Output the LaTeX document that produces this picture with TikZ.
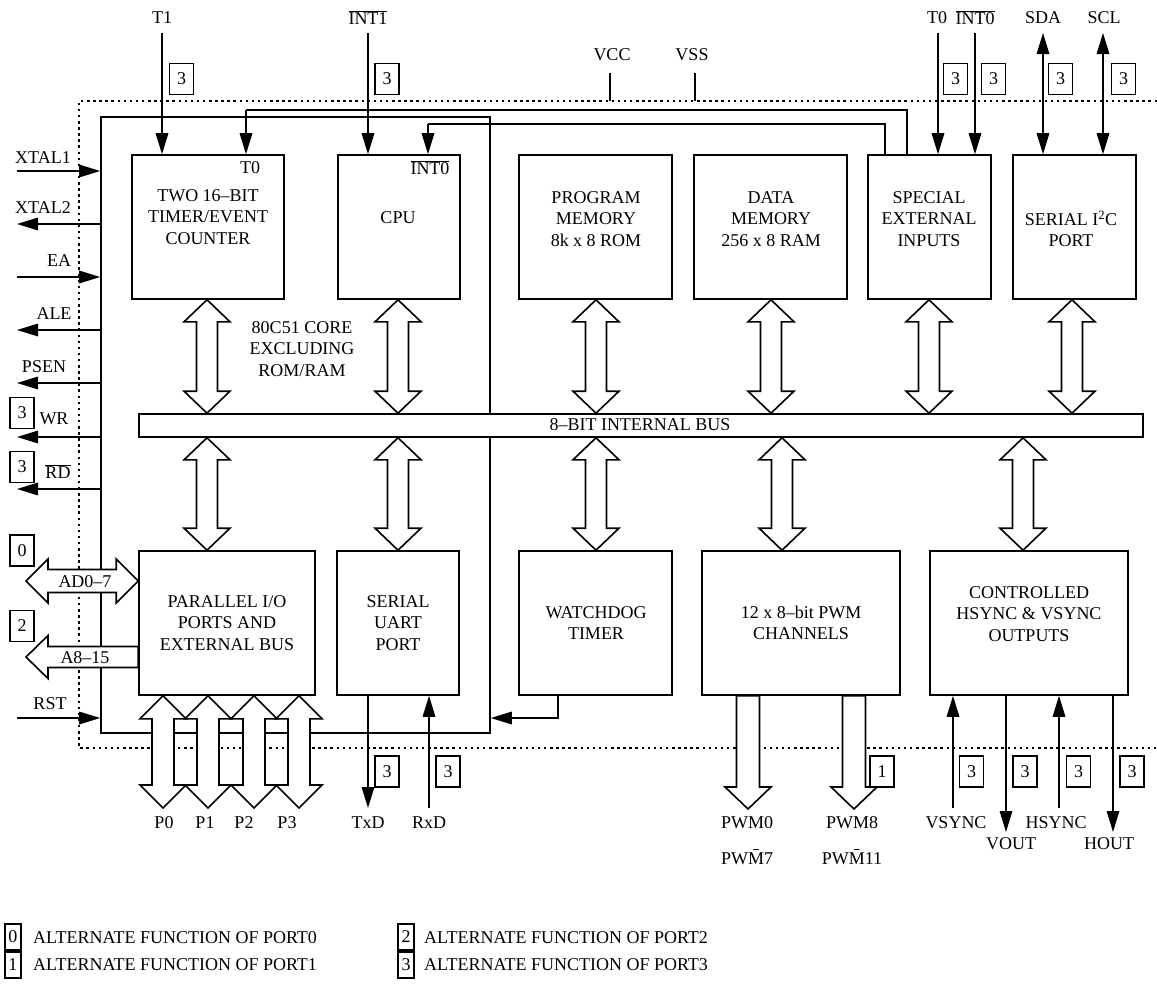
\documentclass[tikz,border=0pt]{standalone}
\usepackage{fontspec}
\setmainfont{Liberation Serif}
\usetikzlibrary{arrows.meta,calc}
\tikzset{
 ln/.style={line width=1.6pt},
 sig/.style={ln,-{Triangle[length=21pt,width=12.5pt]}},
 dsig/.style={ln,{Triangle[length=21pt,width=12.5pt]}-{Triangle[length=21pt,width=12.5pt]}},
 blk/.style={draw,line width=1.6pt,fill=white,inner sep=0pt,minimum height=144pt},
 txt/.style={font=\fontsize{18}{21.5}\selectfont,align=center,inner sep=0pt},
 nb/.style={draw,line width=1.3pt,fill=white,minimum width=24pt,minimum height=31pt,inner sep=0pt,font=\fontsize{18}{21.5}\selectfont},
 lb/.style={draw,line width=1.3pt,fill=white,minimum width=16pt,minimum height=26pt,inner sep=0pt,font=\fontsize{18}{21.5}\selectfont},
 fat/.style={draw,line width=1.6pt,fill=white,line join=miter},
 dots/.style={line width=2pt,dash pattern=on 2.5pt off 3.6pt},
}
% vertical double arrow: #1 top tip, #2 bottom tip, #3 head half width, #4 shaft half width, #5 head length
\newcommand{\vdbl}[5]{\path[fat] let \p1=(#1), \p2=(#2) in
 (\x1,\y1) -- (\x1+#3,\y1-#5) -- (\x1+#4,\y1-#5) -- (\x1+#4,\y2+#5) -- (\x1+#3,\y2+#5) -- (\x1,\y2)
 -- (\x1-#3,\y2+#5) -- (\x1-#4,\y2+#5) -- (\x1-#4,\y1-#5) -- (\x1-#3,\y1-#5) -- cycle;}
% vertical single arrow down: #1 top (tail), #2 bottom tip
\newcommand{\vsgl}[5]{\path[fat] let \p1=(#1), \p2=(#2) in
 (\x1-#4,\y1) -- (\x1-#4,\y2+#5) -- (\x1-#3,\y2+#5) -- (\x1,\y2) -- (\x1+#3,\y2+#5) -- (\x1+#4,\y2+#5) -- (\x1+#4,\y1) -- cycle;}
% horizontal double arrow: #1 left tip, #2 right tip
\newcommand{\hdbl}[5]{\path[fat] let \p1=(#1), \p2=(#2) in
 (\x1,\y1) -- (\x1+#5,\y1+#3) -- (\x1+#5,\y1+#4) -- (\x2-#5,\y1+#4) -- (\x2-#5,\y1+#3) -- (\x2,\y1)
 -- (\x2-#5,\y1-#3) -- (\x2-#5,\y1-#4) -- (\x1+#5,\y1-#4) -- (\x1+#5,\y1-#3) -- cycle;}
% horizontal single arrow pointing left: #1 left tip, #2 tail
\newcommand{\hsgl}[5]{\path[fat] let \p1=(#1), \p2=(#2) in
 (\x1,\y1) -- (\x1+#5,\y1+#3) -- (\x1+#5,\y1+#4) -- (\x2,\y1+#4) -- (\x2,\y1-#4) -- (\x1+#5,\y1-#4) -- (\x1+#5,\y1-#3) -- cycle;}
\newcommand{\ovl}[1]{\ensuremath{\overline{\mbox{#1}}}}
\begin{document}
\begin{tikzpicture}[x=1pt,y=-1pt]
\useasboundingbox (0,0) rectangle (1157,993);
% chip boundary (dotted)
\draw[dots] (1157,101) -- (79,101) -- (79,748) -- (1157,748);
% supply pins
\node[txt] (lvcc) at (612,55) {VCC};
\node[txt] (lvss) at (692,55) {VSS};
\coordinate (vcc) at (610,73);
\coordinate (vss) at (695,73);
\draw[ln] (vcc) -- (610,101);
\draw[ln] (vss) -- (695,101);
% core box
\node[draw,line width=1.6pt,minimum width=389pt,minimum height=616pt,inner sep=0pt] (core) at (295.5,425) {};
\node[txt] (lcore) at (302,349) {80C51 CORE\\EXCLUDING\\ROM/RAM};
% blocks
\node[blk,minimum width=152pt] (timer) at (208,227) {};
\node[blk,minimum width=122pt] (cpu) at (399,227) {};
\node[blk,minimum width=153pt] (prog) at (595.5,227) {};
\node[blk,minimum width=153pt] (data) at (770.5,227) {};
\node[blk,minimum width=123pt] (special) at (929.5,227) {};
\node[blk,minimum width=123pt] (serial) at (1074.5,227) {};
\node[blk,minimum width=176pt] (par) at (227,623) {};
\node[blk,minimum width=122pt] (uart) at (398,623) {};
\node[blk,minimum width=153pt] (wd) at (595.5,623) {};
\node[blk,minimum width=198pt] (pwm) at (801,623) {};
\node[blk,minimum width=198pt] (hs) at (1029,623) {};
\node[draw,line width=1.6pt,fill=white,minimum width=1004pt,minimum height=23pt,inner sep=0pt] (bus) at (641,425.5) {};
\node[txt] (lbus) at (640,425) {8--BIT INTERNAL BUS};
% block texts
\node[txt] (ltimer) at (208,217) {TWO 16--BIT\\TIMER/EVENT\\COUNTER};
\node[txt] (lt0i) at (250,168) {T0};
\node[txt] (lcpu) at (398,218) {CPU};
\node[txt] (lint0i) at (430,168) {\ovl{INT0}};
\node[txt] (lprog) at (596,219) {PROGRAM\\MEMORY\\8k x 8 ROM};
\node[txt] (ldata) at (771,219) {DATA\\MEMORY\\256 x 8 RAM};
\node[txt] (lspec) at (929,219) {SPECIAL\\EXTERNAL\\INPUTS};
\node[txt] (lser) at (1071,229) {SERIAL I\textsuperscript{2}C\\PORT};
\node[txt] (lpar) at (227,623) {PARALLEL I/O\\PORTS AND\\EXTERNAL BUS};
\node[txt] (luart) at (398,623) {SERIAL\\UART\\PORT};
\node[txt] (lwd) at (596,623) {WATCHDOG\\TIMER};
\node[txt] (lpwm) at (801,623) {12 x 8--bit PWM\\CHANNELS};
\node[txt] (lhs) at (1029,614) {CONTROLLED\\HSYNC \& VSYNC\\OUTPUTS};
% internal feedback lines from special inputs
\coordinate (ra) at (907,110);
\coordinate (rb) at (246,110);
\coordinate (rc) at (885,124);
\coordinate (rd) at (428,124);
\draw[ln] (ra |- special.north) -- (ra) -- (rb);
\draw[sig] (rb) -- (rb |- timer.north);
\draw[ln] (rc |- special.north) -- (rc) -- (rd);
\draw[sig] (rd) -- (rd |- cpu.north);
% bus arrows
\foreach \cx/\nd in {207/timer,398/cpu,596/prog,771/data,929/special,1072/serial}{
  \coordinate (tA) at (\cx,0);
  \vdbl{tA |- \nd.south}{tA |- bus.north}{23pt}{10.5pt}{22pt}
}
\foreach \cx/\nd in {207/par,398/uart,596/wd,782/pwm,1023/hs}{
  \coordinate (tB) at (\cx,0);
  \vdbl{tB |- bus.south}{tB |- \nd.north}{23pt}{10.5pt}{22pt}
}
% port arrows
\foreach \cx in {163,208,254,299}{
  \coordinate (tP) at (\cx,808);
  \vdbl{tP |- par.south}{tP}{23pt}{11pt}{23pt}
}
\node[txt] (lp0) at (164,823) {P0};
\node[txt] (lp1) at (205,823) {P1};
\node[txt] (lp2) at (244,823) {P2};
\node[txt] (lp3) at (287,823) {P3};
% address/data arrows
\coordinate (adt) at (26,581);
\coordinate (at) at (26,657);
\hdbl{adt}{adt -| par.west}{22pt}{11.5pt}{22pt}
\hsgl{at}{at -| par.west}{21.5pt}{10.5pt}{22pt}
\node[txt] (lad) at (85,582) {AD0--7};
\node[txt] (la8) at (85,658) {A8--15};
\node[nb] (n0) at (22,550.5) {0};
\node[nb] (n2) at (22,626) {2};
% PWM arrows
\coordinate (pw0) at (748,809);
\coordinate (pw8) at (854,809);
\vsgl{pw0 |- pwm.south}{pw0}{23pt}{11.5pt}{22pt}
\vsgl{pw8 |- pwm.south}{pw8}{23pt}{11.5pt}{22pt}
\node[nb] (n1p) at (882,771.5) {1};
\node[txt] (lpwm0) at (747,823) {PWM0};
\node[txt] (lpwm7) at (747,857) {PW\={M}7};
\node[txt] (lpwm8) at (852,823) {PWM8};
\node[txt] (lpwm11) at (852,857) {PW\={M}11};
% watchdog reset line
\coordinate (wdo) at (558,718);
\draw[sig] (wdo |- wd.south) -- (wdo) -- (wdo -| core.east);
% UART pins
\coordinate (txd) at (368,808);
\coordinate (rxd) at (429,808);
\draw[sig] (txd |- uart.south) -- (txd);
\draw[sig] (rxd) -- (rxd |- uart.south);
\node[nb] (ntx) at (387,771.5) {3};
\node[nb] (nrx) at (448,771.5) {3};
\node[txt] (ltxd) at (368,823) {TxD};
\node[txt] (lrxd) at (429,823) {RxD};
% sync pins
\coordinate (vsy) at (953,808);
\coordinate (vou) at (1006,832);
\coordinate (hsy) at (1059,808);
\coordinate (hou) at (1113,832);
\draw[sig] (vsy) -- (vsy |- hs.south);
\draw[sig] (vou |- hs.south) -- (vou);
\draw[sig] (hsy) -- (hsy |- hs.south);
\draw[sig] (hou |- hs.south) -- (hou);
\node[nb] (nvs) at (971.5,771.5) {3};
\node[nb] (nvo) at (1025,771.5) {3};
\node[nb] (nhs) at (1078.5,771.5) {3};
\node[nb] (nho) at (1132,771.5) {3};
\node[txt] (lvsy) at (956,823) {VSYNC};
\node[txt] (lvou) at (1011,844) {VOUT};
\node[txt] (lhsy) at (1056,823) {HSYNC};
\node[txt] (lhou) at (1109,844) {HOUT};
% top pins
\coordinate (t1) at (162,33);
\coordinate (i1) at (368,33);
\coordinate (t0) at (938,33);
\coordinate (i0) at (975,33);
\coordinate (sda) at (1043,33);
\coordinate (scl) at (1103,33);
\draw[sig] (t1) -- (t1 |- timer.north);
\draw[sig] (i1) -- (i1 |- cpu.north);
\draw[sig] (t0) -- (t0 |- special.north);
\draw[sig] (i0) -- (i0 |- special.north);
\draw[dsig] (sda) -- (sda |- serial.north);
\draw[dsig] (scl) -- (scl |- serial.north);
\node[txt] (lt1) at (162,18) {T1};
\node[txt] (li1) at (368,18) {\ovl{INT1}};
\node[txt] (lt0) at (937,18) {T0};
\node[txt] (li0) at (975,18) {\ovl{INT0}};
\node[txt] (lsda) at (1043,18) {SDA};
\node[txt] (lscl) at (1104,18) {SCL};
\node[nb] (nt1) at (181.5,79) {3};
\node[nb] (ni1) at (387,79) {3};
\node[nb] (nt0) at (955.5,79) {3};
\node[nb] (ni0) at (993.5,79) {3};
\node[nb] (nsda) at (1060.5,79) {3};
\node[nb] (nscl) at (1123.5,79) {3};
% left pins
\coordinate (x1) at (17,171);
\coordinate (x2) at (17,224);
\coordinate (ea) at (17,277);
\coordinate (ale) at (17,330);
\coordinate (psen) at (17,383);
\coordinate (wr) at (17,437);
\coordinate (rdp) at (17,489);
\coordinate (rst) at (17,718);
\draw[sig] (x1) -- (x1 -| core.west);
\draw[sig] (x2 -| core.west) -- (x2);
\draw[sig] (ea) -- (ea -| core.west);
\draw[sig] (ale -| core.west) -- (ale);
\draw[sig] (psen -| core.west) -- (psen);
\draw[sig] (wr -| core.west) -- (wr);
\draw[sig] (rdp -| core.west) -- (rdp);
\draw[sig] (rst) -- (rst -| core.west);
\node[txt] (lx1) at (43,158) {XTAL1};
\node[txt] (lx2) at (43,208) {XTAL2};
\node[txt] (lea) at (59,261) {EA};
\node[txt] (lale) at (54,314) {ALE};
\node[txt] (lpsen) at (44,367) {PSEN};
\node[txt] (lwr) at (54,419) {WR};
\node[txt] (lrd) at (58,472) {\ovl{RD}};
\node[txt] (lrst) at (50,704) {RST};
\node[nb] (nwr) at (22,413) {3};
\node[nb] (nrd) at (22,467) {3};
% legend
\node[lb] (g0) at (13,937) {0};
\node[lb] (g1) at (13,965) {1};
\node[lb] (g2) at (406,937) {2};
\node[lb] (g3) at (406,965) {3};
\node[txt,anchor=west] (t0l) at (33,938) {ALTERNATE FUNCTION OF PORT0};
\node[txt,anchor=west] (t1l) at (33,965) {ALTERNATE FUNCTION OF PORT1};
\node[txt,anchor=west] (t2l) at (424,938) {ALTERNATE FUNCTION OF PORT2};
\node[txt,anchor=west] (t3l) at (424,965) {ALTERNATE FUNCTION OF PORT3};
\end{tikzpicture}
\end{document}
